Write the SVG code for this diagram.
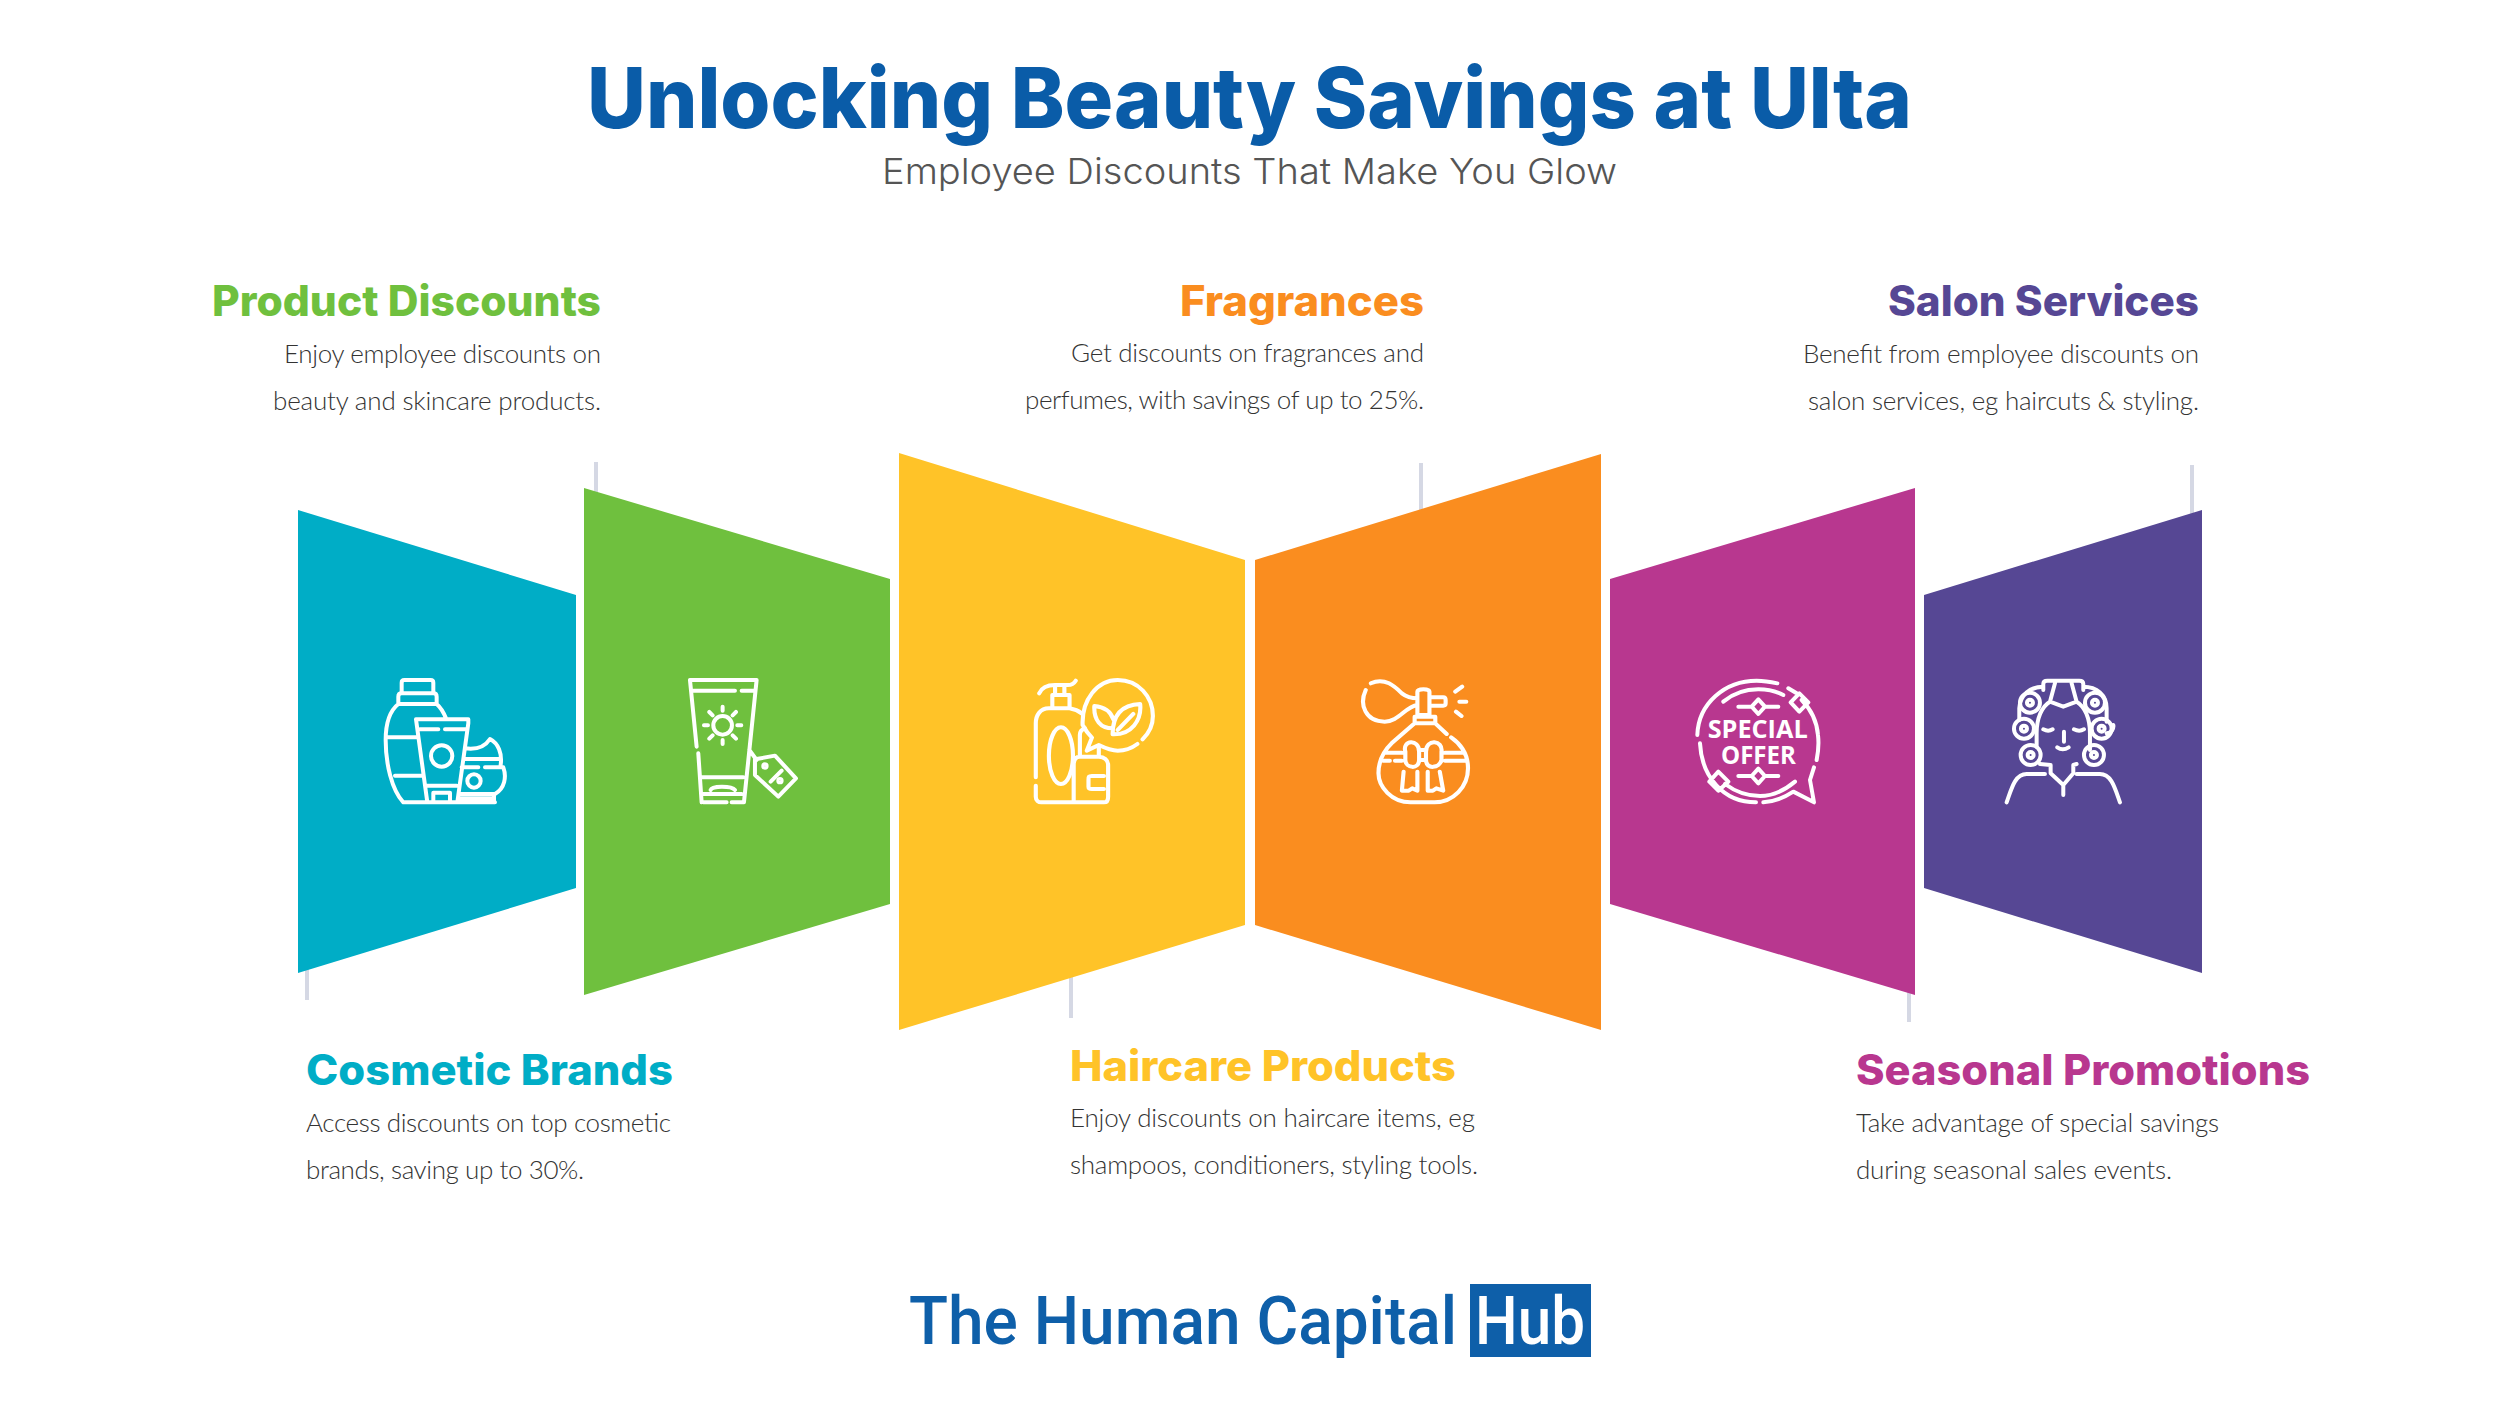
<svg xmlns="http://www.w3.org/2000/svg" width="2500" height="1406" viewBox="0 0 2500 1406">
<style>
.h{font-family:"Inter","Noto Sans",sans-serif;font-weight:800;font-size:42px}
.b{font-family:"Lato","Liberation Sans",sans-serif;font-weight:300;font-size:26px;fill:#333}
.i{fill:none;stroke:#fff;stroke-width:12;stroke-linecap:round;stroke-linejoin:round}
.tick{stroke:#d5d8e4;stroke-width:4;fill:none}
</style>
<rect width="2500" height="1406" fill="#fff"/>
<text x="587" y="128" textLength="1325" lengthAdjust="spacingAndGlyphs" font-family="Inter,'Noto Sans',sans-serif" font-weight="800" font-size="84" fill="#0a5ca8">Unlocking Beauty Savings at Ulta</text>
<text x="882" y="184" textLength="735" lengthAdjust="spacingAndGlyphs" font-family="Inter,'Noto Sans',sans-serif" font-weight="300" font-size="36" fill="#555">Employee Discounts That Make You Glow</text>
<g id="connectors">
<path class="tick" d="M596 462V530M1421 463V540M2192 465V530M307 950V1000M1071 960V1018M1909 970V1022"/>
</g>
<g id="cosmetic-brands">
<polygon points="298,510 576,595 576,888 298,973" fill="#00adc6"/>
<g transform="translate(340,640) scale(.3333)"><path class="i" d="M185 160V128Q185 120 193 120H272Q280 120 280 128V160M175 192V170Q175 160 185 160H280Q290 160 290 170V192H175M175 192C150 212 137 250 137 300C137 370 155 450 190 487H465M290 192C305 205 312 220 318 235M140 292H232M165 407H250M228 238H385V250L352 487M228 238L262 487M240 268H295M315 268H378M258 437H350M280 487V458H330V487M375 325C410 330 435 320 450 297C475 310 487 340 482 375M370 357H480M365 382H415M435 382H490C500 410 495 445 465 462H360M360 475H462M462 462V487"/><circle class="i" cx="305" cy="348" r="32"/><circle class="i" cx="402" cy="423" r="20"/></g>
<text class="h" x="306" y="1085" textLength="367" lengthAdjust="spacingAndGlyphs" fill="#00adc6">Cosmetic Brands</text>
<text class="b" x="306" y="1132" textLength="365">Access discounts on top cosmetic</text>
<text class="b" x="306" y="1179" textLength="278">brands, saving up to 30%.</text>
</g>
<g id="product-discounts">
<polygon points="584,488 890,579 890,904 584,995" fill="#6fc03e"/>
<g transform="translate(340,640) scale(.3333)"><path class="i" d="M1050 120H1250L1212 487M1050 120L1070 320M1075 340L1085 487M1060 152H1185M1205 152H1240M1085 412H1210M1112 450C1115 437 1175 437 1185 450M1090 462H1205M1090 487H1160M1175 487H1212M1148 200V212M1148 300V312M1092 256H1104M1192 256H1204M1108 216L1118 226M1188 216L1178 226M1108 296L1118 286M1188 296L1178 286M1228 330L1250 360M1245 358L1305 347L1368 415L1315 470L1245 405ZM1292 425L1325 392"/><circle class="i" cx="1148" cy="256" r="28"/><circle class="i" cx="1275" cy="378" r="5"/><circle class="i" cx="1320" cy="422" r="5"/></g>
<text class="h" x="212" y="316" textLength="389" lengthAdjust="spacingAndGlyphs" fill="#6fc03e">Product Discounts</text>
<text class="b" x="284" y="363" textLength="317">Enjoy employee discounts on</text>
<text class="b" x="273" y="410" textLength="328">beauty and skincare products.</text>
</g>
<g id="haircare-products">
<polygon points="899,453 1245,560 1245,925 899,1030" fill="#ffc328"/>
<g transform="translate(980,640) scale(.3444,.3333)"><path class="i" d="M172 160C180 140 200 135 218 135H255C265 135 272 132 278 122M218 135V165M245 135V165M210 165H260V205H210ZM210 205H200C175 205 162 225 162 250V412M162 437V470C162 482 170 487 178 487H360C368 487 372 480 372 470V375C372 360 360 350 345 350H290C278 350 272 360 272 375V480M260 205C275 208 285 212 295 220M290 350V285C290 275 295 268 305 265M345 350V320M360 408H325C315 408 315 410 315 420V440C315 447 320 447 325 447H360M298 255C295 180 340 120 400 120C460 120 502 170 502 228C502 255 490 280 472 298M457 312C440 325 420 332 400 332C380 332 365 325 345 315L310 332L325 293C312 280 305 268 298 255M385 265C350 265 330 240 332 198C360 200 380 215 388 240M385 283C385 240 400 195 465 192C470 240 440 285 385 283ZM400 270L445 222"/><ellipse class="i" cx="235" cy="347" rx="35" ry="85"/></g>
<text class="h" x="1070" y="1081" textLength="386" lengthAdjust="spacingAndGlyphs" fill="#ffc328">Haircare Products</text>
<text class="b" x="1070" y="1127" textLength="405">Enjoy discounts on haircare items, eg</text>
<text class="b" x="1070" y="1174" textLength="408">shampoos, conditioners, styling tools.</text>
</g>
<g id="fragrances">
<polygon points="1255,560 1601,454 1601,1030 1255,925" fill="#fa8d1f"/>
<g transform="translate(980,640) scale(.3444,.3333)"><path class="i" d="M1135 130C1175 110 1205 140 1225 160C1240 172 1255 175 1270 175M1120 150C1100 195 1120 245 1175 245C1215 245 1235 200 1270 195M1270 205V155C1270 145 1305 145 1305 155V225H1270V205M1305 172H1345Q1352 172 1352 180V190Q1352 197 1345 197H1305M1262 230H1322V250H1262ZM1380 155L1400 140M1392 185H1412M1382 215L1398 228M1262 250L1195 310C1170 335 1157 365 1157 400C1157 440 1195 487 1250 487H1320C1375 487 1417 440 1417 385C1417 345 1400 315 1368 292M1322 250L1355 282M1180 338H1225M1350 338H1400M1170 362H1190M1205 362H1225M1350 362H1415M1235 335C1225 300 1275 295 1275 335V360C1275 390 1235 385 1235 360ZM1275 330H1295V360H1275V330M1295 335C1295 295 1345 300 1340 335V360C1335 385 1295 390 1295 360ZM1230 395L1225 452H1245L1255 445L1270 452V395M1300 395V452H1315L1325 445L1345 452L1335 395"/></g>
<text class="h" x="1180" y="316" textLength="244" lengthAdjust="spacingAndGlyphs" fill="#fa8d1f">Fragrances</text>
<text class="b" x="1071" y="362" textLength="353">Get discounts on fragrances and</text>
<text class="b" x="1025" y="409" textLength="399">perfumes, with savings of up to 25%.</text>
</g>
<g id="seasonal-promotions">
<polygon points="1610,579 1915,488 1915,995 1610,904" fill="#b8378f"/>
<g transform="translate(1660,640) scale(.3333)"><path class="i" d="M112 285C115 190 195 122 290 122C310 122 330 125 352 130M385 145L410 160M120 310C125 410 190 487 288 487M310 487C340 485 370 475 400 455L462 487L450 420L462 382M470 360C475 335 477 310 474 285C470 240 450 205 425 180M190 185C220 160 255 148 295 148C320 148 345 152 370 165M195 432C230 458 265 468 300 468C340 468 375 450 405 425M235 200H275M315 200H355M235 408H275M315 408H355M295 178L315 200L295 222L275 200ZM295 386L315 408L295 430L275 408ZM418 160L445 187L418 215L392 187ZM175 395L205 425L175 452L148 425Z"/><text font-family="'Open Sans',sans-serif" font-weight="700" font-size="74" fill="#fff"><tspan x="143" y="294" textLength="300" lengthAdjust="spacingAndGlyphs">SPECIAL</tspan><tspan x="183" y="373" textLength="225" lengthAdjust="spacingAndGlyphs">OFFER</tspan></text></g>
<text class="h" x="1856" y="1085" textLength="454" lengthAdjust="spacingAndGlyphs" fill="#b8378f">Seasonal Promotions</text>
<text class="b" x="1856" y="1132" textLength="363">Take advantage of special savings</text>
<text class="b" x="1856" y="1179" textLength="316">during seasonal sales events.</text>
</g>
<g id="salon-services">
<polygon points="1924,595 2202,510 2202,973 1924,888" fill="#564794"/>
<g transform="translate(1660,640) scale(.3333)"><path class="i" d="M1150 150V132Q1150 122 1162 122H1258Q1270 122 1270 132V150M1170 185L1185 130M1250 185L1235 130M1150 140C1110 140 1080 165 1078 205V240M1270 140C1310 140 1340 165 1340 205V245M1170 185L1210 200L1250 185C1275 200 1290 235 1290 280V330M1170 185C1145 200 1130 235 1130 280V320M1150 268Q1165 276 1178 268M1242 268Q1258 276 1272 268M1212 275V305M1192 322Q1208 334 1226 322M1140 372L1172 375V400L1210 435V465M1250 372L1240 375V400L1210 435M1040 487C1055 445 1065 402 1100 402H1155M1380 487C1365 445 1355 402 1320 402H1250M1340 280C1355 280 1362 265 1360 255"/><circle class="i" cx="1110" cy="188" r="30"/><circle class="i" cx="1110" cy="188" r="9"/><circle class="i" cx="1305" cy="188" r="30"/><circle class="i" cx="1305" cy="188" r="9"/><circle class="i" cx="1092" cy="266" r="30"/><circle class="i" cx="1092" cy="266" r="9"/><circle class="i" cx="1325" cy="266" r="30"/><circle class="i" cx="1325" cy="266" r="9"/><circle class="i" cx="1112" cy="345" r="30"/><circle class="i" cx="1112" cy="345" r="9"/><circle class="i" cx="1302" cy="345" r="30"/><circle class="i" cx="1302" cy="345" r="9"/></g>
<text class="h" x="1888" y="316" textLength="311" lengthAdjust="spacingAndGlyphs" fill="#564794">Salon Services</text>
<text class="b" x="1803" y="363" textLength="396">Benefit from employee discounts on</text>
<text class="b" x="1808" y="410" textLength="391">salon services, eg haircuts &amp; styling.</text>
</g>
<g id="logo">
<text x="909" y="1344" textLength="548" lengthAdjust="spacingAndGlyphs" font-family="Roboto,'Liberation Sans',sans-serif" font-weight="500" font-size="66" fill="#0e5fa9">The Human Capital</text>
<rect x="1470" y="1284" width="121" height="73" fill="#0e5fa9"/>
<text x="1475" y="1344" textLength="110" lengthAdjust="spacingAndGlyphs" font-family="Roboto,'Liberation Sans',sans-serif" font-weight="500" font-size="66" fill="#fff">Hub</text>
</g>
</svg>
